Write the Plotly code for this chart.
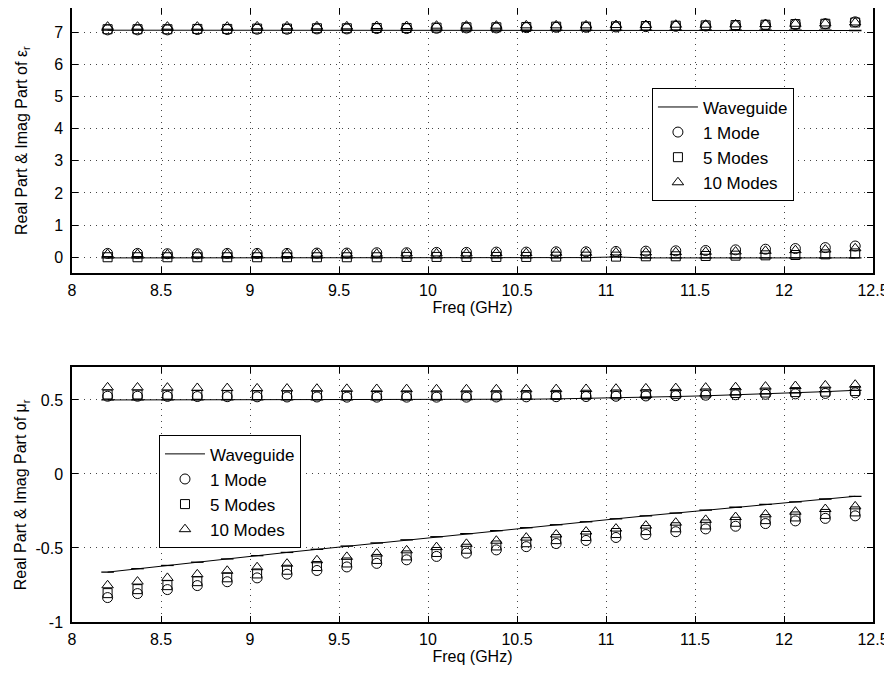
import plotly.graph_objects as go

freq = [8.2, 8.368, 8.536, 8.704, 8.872, 9.04, 9.208, 9.376, 9.544, 9.712, 9.88, 10.048, 10.216,
        10.384, 10.552, 10.72, 10.888, 11.056, 11.224, 11.392, 11.56, 11.728, 11.896, 12.064, 12.232, 12.4]

# permittivity, real part
eps_re_wg = [7.06, 7.06, 7.06, 7.06, 7.06, 7.06, 7.06, 7.06, 7.06, 7.06, 7.06, 7.06, 7.06,
             7.06, 7.06, 7.06, 7.06, 7.06, 7.06, 7.06, 7.06, 7.06, 7.06, 7.06, 7.06, 7.05]
eps_re_1 = [7.07, 7.07, 7.07, 7.08, 7.08, 7.09, 7.09, 7.10, 7.10, 7.11, 7.11, 7.12, 7.13,
            7.13, 7.14, 7.15, 7.15, 7.16, 7.17, 7.18, 7.19, 7.20, 7.22, 7.24, 7.26, 7.32]
eps_re_5 = [7.09, 7.09, 7.09, 7.10, 7.10, 7.11, 7.11, 7.12, 7.12, 7.13, 7.13, 7.14, 7.15,
            7.15, 7.16, 7.17, 7.17, 7.18, 7.19, 7.20, 7.21, 7.22, 7.23, 7.25, 7.26, 7.30]
eps_re_10 = [7.17, 7.17, 7.17, 7.17, 7.17, 7.18, 7.18, 7.18, 7.18, 7.19, 7.19, 7.20, 7.20,
             7.20, 7.21, 7.21, 7.21, 7.22, 7.22, 7.23, 7.23, 7.24, 7.25, 7.26, 7.27, 7.30]

# permittivity, imaginary part
eps_im_wg = [-0.02, -0.02, -0.02, -0.02, -0.02, -0.02, -0.02, -0.02, -0.02, -0.02, -0.02, -0.02, -0.02,
             -0.02, -0.02, -0.02, -0.01, 0.01, -0.02, -0.02, -0.02, -0.02, -0.02, -0.02, -0.02, -0.02]
eps_im_1 = [0.12, 0.12, 0.11, 0.11, 0.12, 0.12, 0.12, 0.13, 0.13, 0.14, 0.14, 0.15, 0.15,
            0.16, 0.16, 0.17, 0.17, 0.18, 0.19, 0.20, 0.21, 0.23, 0.25, 0.27, 0.30, 0.35]
eps_im_5 = [0.00, 0.00, 0.00, 0.00, 0.00, 0.00, 0.00, 0.00, 0.00, 0.00, 0.01, 0.01, 0.01,
            0.01, 0.01, 0.02, 0.02, 0.02, 0.03, 0.03, 0.04, 0.05, 0.06, 0.07, 0.09, 0.12]
eps_im_10 = [0.10, 0.10, 0.09, 0.09, 0.10, 0.10, 0.10, 0.11, 0.11, 0.11, 0.12, 0.12, 0.12,
             0.13, 0.13, 0.14, 0.14, 0.15, 0.15, 0.16, 0.17, 0.18, 0.20, 0.22, 0.24, 0.28]

# permeability, real part
mu_re_wg = [0.500, 0.500, 0.500, 0.500, 0.500, 0.500, 0.500, 0.500, 0.500, 0.500, 0.500, 0.501, 0.502,
            0.503, 0.505, 0.507, 0.510, 0.514, 0.518, 0.523, 0.528, 0.534, 0.541, 0.548, 0.556, 0.565]
mu_re_1 = [0.525, 0.525, 0.524, 0.523, 0.522, 0.521, 0.520, 0.520, 0.519, 0.519, 0.519, 0.519, 0.519,
           0.520, 0.521, 0.522, 0.523, 0.525, 0.527, 0.529, 0.532, 0.535, 0.538, 0.541, 0.544, 0.548]
mu_re_5 = [0.537, 0.537, 0.536, 0.535, 0.534, 0.533, 0.532, 0.532, 0.531, 0.531, 0.531, 0.531, 0.531,
           0.532, 0.533, 0.534, 0.535, 0.537, 0.539, 0.541, 0.544, 0.547, 0.550, 0.553, 0.556, 0.560]
mu_re_10 = [0.585, 0.584, 0.583, 0.581, 0.580, 0.578, 0.577, 0.576, 0.575, 0.574, 0.573, 0.572, 0.572,
            0.572, 0.572, 0.573, 0.574, 0.576, 0.578, 0.580, 0.583, 0.586, 0.590, 0.594, 0.598, 0.603]

# permeability, imaginary part
mu_im_wg = [-0.663, -0.640, -0.618, -0.596, -0.574, -0.552, -0.530, -0.509, -0.487, -0.466, -0.445, -0.424, -0.403,
            -0.383, -0.363, -0.343, -0.323, -0.303, -0.283, -0.264, -0.244, -0.225, -0.206, -0.188, -0.169, -0.151]
mu_im_1 = [-0.835, -0.808, -0.781, -0.754, -0.728, -0.702, -0.677, -0.652, -0.628, -0.604, -0.580, -0.557, -0.535,
           -0.513, -0.491, -0.470, -0.449, -0.429, -0.409, -0.390, -0.371, -0.353, -0.335, -0.317, -0.300, -0.283]
mu_im_5 = [-0.805, -0.778, -0.751, -0.724, -0.698, -0.672, -0.647, -0.622, -0.598, -0.574, -0.550, -0.527, -0.505,
           -0.483, -0.461, -0.440, -0.419, -0.399, -0.379, -0.360, -0.341, -0.323, -0.305, -0.287, -0.270, -0.253]
mu_im_10 = [-0.752, -0.727, -0.702, -0.678, -0.654, -0.630, -0.606, -0.583, -0.560, -0.538, -0.516, -0.494, -0.472,
            -0.451, -0.430, -0.409, -0.389, -0.369, -0.349, -0.329, -0.310, -0.291, -0.273, -0.255, -0.237, -0.219]

x_ticks = [8, 8.5, 9, 9.5, 10, 10.5, 11, 11.5, 12, 12.5]
x_tick_text = ["8", "8.5", "9", "9.5", "10", "10.5", "11", "11.5", "12", "12.5"]
y1_ticks = [0, 1, 2, 3, 4, 5, 6, 7]
y1_tick_text = ["0", "1", "2", "3", "4", "5", "6", "7"]
y2_ticks = [-1, -0.5, 0, 0.5]
y2_tick_text = ["-1", "-0.5", "0", "0.5"]

names = ["Waveguide", "1 Mode", "5 Modes", "10 Modes"]
x_title = "Freq (GHz)"
y1_title = "Real Part & Imag Part of ε<sub>r</sub>"
y2_title = "Real Part & Imag Part of μ<sub>r</sub>"

MARKS = [("circle-open", 10), ("square-open", 9), ("triangle-up-open", 10)]

fig = go.Figure()


def add_group(xa, ya, legend, wg, m1, m5, m10, show):
    fig.add_trace(go.Scatter(x=freq, y=wg, mode="markers", xaxis=xa, yaxis=ya, showlegend=False,
                             marker=dict(symbol="line-ew", size=9, line=dict(color="black", width=1.3)),
                             hoverinfo="skip"))
    fig.add_trace(go.Scatter(x=freq, y=wg, mode="lines", name=names[0], xaxis=xa, yaxis=ya,
                             legend=legend, showlegend=show, line=dict(color="black", width=1)))
    for vals, (sym, sz), nm in zip([m1, m5, m10], MARKS, names[1:]):
        fig.add_trace(go.Scatter(x=freq, y=vals, mode="markers", name=nm, xaxis=xa, yaxis=ya,
                                 legend=legend, showlegend=show,
                                 marker=dict(symbol=sym, size=sz, color="black",
                                             line=dict(color="black", width=1))))


add_group("x", "y", "legend", eps_re_wg, eps_re_1, eps_re_5, eps_re_10, True)
add_group("x", "y", "legend", eps_im_wg, eps_im_1, eps_im_5, eps_im_10, False)
add_group("x2", "y2", "legend2", mu_re_wg, mu_re_1, mu_re_5, mu_re_10, True)
add_group("x2", "y2", "legend2", mu_im_wg, mu_im_1, mu_im_5, mu_im_10, False)

axis_common = dict(showline=True, linecolor="black", linewidth=1.5, mirror="ticks",
                   ticks="inside", ticklen=6, tickcolor="black", showgrid=True,
                   gridcolor="#444444", griddash="1px,5px", gridwidth=1, zeroline=False,
                   automargin=False, ticklabeloverflow="allow",
                   tickfont=dict(size=16, color="black"))

legend_common = dict(xanchor="left", yanchor="middle", bgcolor="white", bordercolor="black",
                     borderwidth=1, font=dict(size=17), tracegroupgap=0, itemwidth=40)

# the page body adds an 8px offset; figure sized to fit the 892x673 window
fig.update_layout(
    width=884, height=665,
    margin=dict(l=64, r=19, t=0, b=51),
    paper_bgcolor="white", plot_bgcolor="white",
    font=dict(family="Liberation Sans, Arial, sans-serif", size=16, color="black"),
    xaxis=dict(domain=[0, 1], range=[8, 12.5], tickvals=x_ticks, ticktext=x_tick_text, anchor="y",
               ticklabelstandoff=2,
               title=dict(text=x_title, standoff=0, font=dict(size=16)), **axis_common),
    yaxis=dict(domain=[0.5689, 1], range=[-0.48, 7.75], tickvals=y1_ticks, ticktext=y1_tick_text, anchor="x",
               ticklabelstandoff=4, **axis_common),
    xaxis2=dict(domain=[0, 1], range=[8, 12.5], tickvals=x_ticks, ticktext=x_tick_text, anchor="y2",
                ticklabelstandoff=2,
                title=dict(text=x_title, standoff=0, font=dict(size=16)), **axis_common),
    yaxis2=dict(domain=[0, 0.4147], range=[-1, 0.72], tickvals=y2_ticks, ticktext=y2_tick_text, anchor="x2",
                ticklabelstandoff=4, **axis_common),
    legend=dict(x=0.724, y=0.777, **legend_common),
    legend2=dict(x=0.1086, y=0.212, **legend_common),
    annotations=[
        dict(text=y1_title, xref="paper", yref="paper", x=-0.062, y=0.784, textangle=-90,
             showarrow=False, font=dict(size=16), xanchor="center", yanchor="middle"),
        dict(text=y2_title, xref="paper", yref="paper", x=-0.062, y=0.207, textangle=-90,
             showarrow=False, font=dict(size=16), xanchor="center", yanchor="middle"),
    ],
)

fig.write_html("out.html")
